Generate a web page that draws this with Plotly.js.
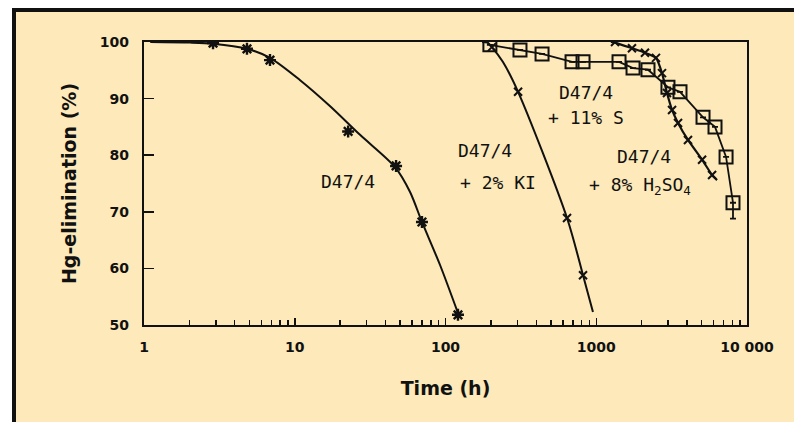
<!DOCTYPE html>
<html><head><meta charset="utf-8">
<script src="https://cdn.plot.ly/plotly-3.0.1.min.js"></script>
<style>
html,body{margin:0;padding:0;background:#fff;width:794px;height:422px;overflow:hidden;}
#wrap{position:absolute;left:12px;top:8px;width:782px;height:414px;border-left:4px solid #111;border-top:4px solid #111;box-sizing:border-box;background:#fde9b9;}
#chart{width:778px;height:410px;}
</style></head>
<body><div id="wrap"><div id="chart"></div></div>
<script>
// D47/4 (asterisks) – measured points and drawn curve
const d47_t = [2.87, 4.82, 6.85, 22.6, 47, 69.8, 121];
const d47_v = [99.8, 98.8, 96.8, 84.2, 78.1, 68.2, 51.8];
const d47_line_t = [1.10, 2.02, 2.87, 4.82, 6.85, 10.8, 17.1, 27.1, 46.3, 58.2, 69.8, 92.0, 121];
const d47_line_v = [100, 99.9, 99.7, 98.8, 97.2, 93.3, 88.7, 83.6, 77.9, 73.5, 68.2, 60.6, 52.1];
// D47/4 + 2% KI (x)
const ki_t = [203, 303, 640, 817];
const ki_v = [99.1, 91.2, 68.9, 58.8];
const ki_line_t = [175, 190, 203, 240, 303, 640, 817, 951];
const ki_line_v = [100, 99.9, 99.1, 96.5, 91.2, 68.9, 58.8, 52.3];
// D47/4 + 11% S (squares)
const s_t = [197, 312, 437, 691, 817, 1416, 1754, 2204, 2990, 3594, 5108, 6135, 7263, 8074];
const s_v = [99.5, 98.6, 97.9, 96.5, 96.5, 96.5, 95.4, 95.1, 92.0, 91.2, 86.7, 85.0, 79.7, 71.6];
const s_err = [0, 0, 0, 0, 0, 0, 0, 0, 0, 0, 0, 0, 0, 2.8];
// D47/4 + 8% H2SO4 (x)
const h_t = [1332, 1726, 2105, 2490, 2730, 2946, 3183, 3487, 4060, 5035, 5866];
const h_v = [100, 98.9, 98.1, 97.2, 94.5, 91.0, 88.0, 85.7, 82.7, 79.2, 76.5];
const h_line_t = [1250, 1332, 1726, 2105, 2490, 2730, 2946, 3183, 3487, 4060, 5035, 5866, 6330];
const h_line_v = [100, 99.9, 98.9, 98.1, 97.2, 94.5, 91.0, 88.0, 85.7, 82.7, 79.2, 76.5, 75.6];

const xTickVals = [1, 10, 100, 1000, 10000];
const xTickText = ['1', '10', '100', '1000', '10 000'];
const xMinorVals = [2,3,4,5,6,7,8,9, 20,30,40,50,60,70,80,90, 200,300,400,500,600,700,800,900, 2000,3000,4000,5000,6000,7000,8000,9000];
const yTickVals = [50, 60, 70, 80, 90, 100];

const INK = '#111';
const F = 'DejaVu Sans, sans-serif';
const FM = 'DejaVu Sans Mono, monospace';

const traces = [
  {x: d47_line_t, y: d47_line_v, mode: 'lines', line: {color: INK, width: 2, shape: 'spline', smoothing: 0.8}},
  {x: d47_t, y: d47_v, mode: 'markers', marker: {symbol: 'asterisk-open', size: 10, color: INK, line: {color: INK, width: 2.4}}},
  {x: ki_line_t, y: ki_line_v, mode: 'lines', line: {color: INK, width: 2, shape: 'spline', smoothing: 0.8}},
  {x: ki_t, y: ki_v, mode: 'markers', marker: {symbol: 'x-thin-open', size: 8, color: INK, line: {color: INK, width: 2}}},
  {x: h_line_t, y: h_line_v, mode: 'lines', line: {color: INK, width: 2.2, shape: 'spline', smoothing: 0.5}},
  {x: h_t, y: h_v, mode: 'markers', marker: {symbol: 'x-thin-open', size: 8, color: INK, line: {color: INK, width: 2}}},
  {x: s_t, y: s_v, mode: 'lines+markers', line: {color: INK, width: 1.8},
   marker: {symbol: 'square-open', size: 13, color: INK, line: {color: INK, width: 2}},
   error_y: {type: 'data', symmetric: false, array: s_err.map(()=>0), arrayminus: s_err, color: INK, thickness: 1.8, width: 3}},
  // invisible trace to activate the minor-tick axis
  {x: [1, 10000], y: [50, 50], xaxis: 'x2', yaxis: 'y', mode: 'markers', marker: {opacity: 0}, hoverinfo: 'skip'}
];

const annFont = {family: FM, size: 18, color: INK};
function ann(x, y, text, xanchor) {
  return {x: x, y: y, xref: 'x', yref: 'y', text: text, showarrow: false, xanchor: xanchor || 'center', font: annFont};
}
const layout = {
  width: 778, height: 410,
  margin: {l: 128, r: 47, t: 30, b: 97},
  paper_bgcolor: '#fde9b9', plot_bgcolor: '#fde9b9',
  showlegend: false,
  font: {family: F, color: INK},
  xaxis: {
    type: 'log', range: [0, 4],
    tickvals: xTickVals, ticktext: xTickText,
    ticks: 'inside', ticklen: 7, tickwidth: 1.5, tickcolor: INK,
    showline: true, linecolor: INK, linewidth: 2.2, mirror: true,
    showgrid: false, zeroline: false,
    ticklabelstandoff: 8,
    tickfont: {family: F, size: 14, color: INK, weight: 'bold'},
    title: {text: 'Time (h)', font: {family: F, size: 19, color: INK, weight: 'bold'}, standoff: 28}
  },
  xaxis2: {
    type: 'log', range: [0, 4], overlaying: 'x', anchor: 'y', side: 'bottom',
    tickmode: 'array', tickvals: xMinorVals, showticklabels: false,
    ticks: 'inside', ticklen: 5, tickwidth: 1.4, tickcolor: INK,
    showline: false, showgrid: false, zeroline: false
  },
  yaxis: {
    range: [50, 100], tickvals: yTickVals,
    ticks: 'inside', ticklen: 10, tickwidth: 1.5, tickcolor: INK,
    showline: true, linecolor: INK, linewidth: 2.2, mirror: true,
    showgrid: false, zeroline: false,
    ticklabelstandoff: 10,
    tickfont: {family: F, size: 14, color: INK, weight: 'bold'},
    title: {text: 'Hg-elimination (%)', font: {family: F, size: 19, color: INK, weight: 'bold'}, standoff: 18}
  },
  annotations: [
    ann(1.353, 75.3, 'D47/4'),
    ann(2.070, 80.9, 'D47/4', 'left'),
    ann(2.083, 75.1, '+ 2% KI', 'left'),
    ann(2.932, 91.0, 'D47/4'),
    ann(2.932, 86.6, '+ 11% S'),
    ann(3.317, 79.7, 'D47/4'),
    ann(3.290, 74.6, '+ 8% H<sub>2</sub>SO<sub>4</sub>')
  ]
};
Plotly.newPlot('chart', traces, layout, {displayModeBar: false, staticPlot: true});
</script></body></html>
